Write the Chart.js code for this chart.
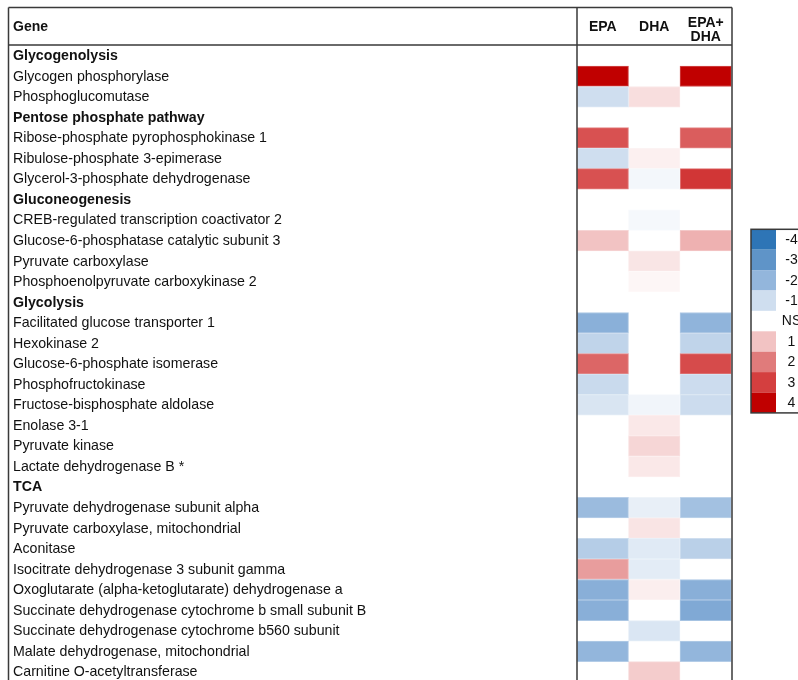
<!DOCTYPE html>
<html>
<head>
<meta charset="utf-8">
<script src="https://cdn.jsdelivr.net/npm/chart.js@4"></script>
<style>
  html, body { margin: 0; padding: 0; background: #fff; overflow: hidden; }
  #wrap { width: 798px; height: 700px; }
</style>
</head>
<body>
<div id="wrap"><canvas id="heat" width="798" height="700"></canvas></div>
<script>
// =================== DATA =================== //

const genes = [
  'Glycogenolysis',
  'Glycogen phosphorylase',
  'Phosphoglucomutase',
  'Pentose phosphate pathway',
  'Ribose-phosphate pyrophosphokinase 1',
  'Ribulose-phosphate 3-epimerase',
  'Glycerol-3-phosphate dehydrogenase',
  'Gluconeogenesis',
  'CREB-regulated transcription coactivator 2',
  'Glucose-6-phosphatase catalytic subunit 3',
  'Pyruvate carboxylase',
  'Phosphoenolpyruvate carboxykinase 2',
  'Glycolysis',
  'Facilitated glucose transporter 1',
  'Hexokinase 2',
  'Glucose-6-phosphate isomerase',
  'Phosphofructokinase',
  'Fructose-bisphosphate aldolase',
  'Enolase 3-1',
  'Pyruvate kinase',
  'Lactate dehydrogenase B *',
  'TCA',
  'Pyruvate dehydrogenase subunit alpha',
  'Pyruvate carboxylase, mitochondrial',
  'Aconitase',
  'Isocitrate dehydrogenase 3 subunit gamma',
  'Oxoglutarate (alpha-ketoglutarate) dehydrogenase a',
  'Succinate dehydrogenase cytochrome b small subunit B',
  'Succinate dehydrogenase cytochrome b560 subunit',
  'Malate dehydrogenase, mitochondrial',
  'Carnitine O-acetyltransferase'
];

// rows that are pathway headings (bold, no cells)
const sectionRows = [0, 3, 7, 12, 21];

const conditions = ['EPA', 'DHA', 'EPA+DHA'];

// fold-change scores, null = NS
const epa = [null, 4, -1, null, 2.7, -1, 2.7, null, null, 1, null, null, null,
  -2.17, -1.25, 2.35, -1.1, -0.8, null, null, null, null,
  -1.87, null, -1.43, 1.53, -2.2, -2.2, null, -2.0, null];
const dha = [null, null, 0.55, null, null, 0.25, -0.25, null, -0.2, null, 0.43, 0.15, null,
  null, null, null, null, -0.3, 0.38, 0.68, 0.38, null,
  -0.48, 0.45, -0.65, -0.58, 0.28, null, -0.77, null, 0.85];
const combo = [null, 4, null, null, 2.5, null, 3.15, null, null, 1.25, null, null, null,
  -2.05, -1.25, 2.8, -1.05, -1.05, null, null, null, null,
  -1.73, null, -1.35, null, -2.2, -2.37, null, -2.0, null];

const legendValues = [-4, -3, -2, -1, 0, 1, 2, 3, 4];
const legendLabels = ['-4', '-3', '-2', '-1', 'NS', '1', '2', '3', '4'];

// =================== COLOUR SCALE =================== //

const scaleStops = [
  [46, 117, 182], [95, 148, 200], [147, 182, 220], [207, 222, 239],
  [255, 255, 255],
  [242, 195, 195], [224, 123, 123], [212, 63, 63], [192, 0, 0]
];

function colorFor(v) {
  let t = Math.max(-4, Math.min(4, v)) + 4;
  let i = Math.min(7, Math.floor(t));
  let f = t - i;
  let a = scaleStops[i], b = scaleStops[i + 1];
  let c = a.map((x, k) => Math.round(x + (b[k] - x) * f));
  return `rgb(${c[0]},${c[1]},${c[2]})`;
}

function edgeFor(v) {
  let m = colorFor(v).match(/\d+/g).map(Number);
  let c = m.map(x => Math.round(x + (255 - x) * 0.3));
  return `rgb(${c[0]},${c[1]},${c[2]})`;
}

// =================== TABLE / LEGEND PLUGIN =================== //

const FONT = "'Liberation Sans', Arial, sans-serif";

const tablePlugin = {
  id: 'tableFrame',
  afterDatasetsDraw(chart) {
    const ctx = chart.ctx;
    const xs = chart.scales.x;
    const ys = chart.scales.y;
    const left = 8.5, top = 7.5, right = 732, headBottom = 45, bottom = 720;
    const divider = chart.chartArea.left;

    ctx.save();
    ctx.fillStyle = '#111';
    ctx.textBaseline = 'middle';

    // header
    ctx.font = 'bold 14px ' + FONT;
    ctx.textAlign = 'left';
    ctx.fillText('Gene', 13, 27);
    ctx.textAlign = 'center';
    ctx.fillText('EPA', xs.getPixelForValue(0.5), 27);
    ctx.fillText('DHA', xs.getPixelForValue(1.5), 27);
    ctx.fillText('EPA+', xs.getPixelForValue(2.5), 23.5);
    ctx.fillText('DHA', xs.getPixelForValue(2.5), 37);

    // gene labels
    ctx.textAlign = 'left';
    genes.forEach((g, i) => {
      ctx.font = (sectionRows.includes(i) ? 'bold ' : '') + '14.2px ' + FONT;
      ctx.fillText(g, 13, ys.getPixelForValue(i) + 0.5);
    });

    // frame lines
    ctx.strokeStyle = '#3a3a3a';
    ctx.lineWidth = 1.5;
    ctx.beginPath();
    ctx.moveTo(left, top); ctx.lineTo(right, top);
    ctx.moveTo(left, headBottom); ctx.lineTo(right, headBottom);
    ctx.moveTo(left, top); ctx.lineTo(left, bottom);
    ctx.moveTo(divider, top); ctx.lineTo(divider, bottom);
    ctx.moveTo(right, top); ctx.lineTo(right, bottom);
    ctx.stroke();

    // colour legend
    const lx = 751, ly = 229.3, lh = 20.4, lw = 25;
    legendValues.forEach((v, i) => {
      ctx.fillStyle = colorFor(v);
      ctx.fillRect(lx, ly + i * lh, lw, lh);
      ctx.fillStyle = '#111';
      ctx.font = '14px ' + FONT;
      ctx.textAlign = 'center';
      ctx.fillText(legendLabels[i], 791.5, ly + i * lh + lh / 2 + 0.5);
    });
    ctx.strokeStyle = '#3a3a3a';
    ctx.lineWidth = 1.5;
    ctx.strokeRect(lx, ly, 80, legendValues.length * lh);
    ctx.restore();
  }
};

// =================== CHART =================== //

const series = [epa, dha, combo];

const datasets = series.map((vals, c) => ({
  label: conditions[c],
  data: vals.map(v => v === null ? null : [c, c + 1]),
  backgroundColor: vals.map(v => v === null ? 'rgba(0,0,0,0)' : colorFor(v)),
  borderColor: vals.map(v => v === null ? 'rgba(0,0,0,0)' : edgeFor(v)),
  borderWidth: 1,
  borderSkipped: false,
  grouped: false,
  barPercentage: 1,
  categoryPercentage: 1
}));

new Chart(document.getElementById('heat'), {
  type: 'bar',
  data: { labels: genes, datasets: datasets },
  options: {
    indexAxis: 'y',
    responsive: false,
    animation: false,
    layout: { padding: { left: 577, right: 66.5, top: 45.46, bottom: 17.8 } },
    plugins: {
      legend: { display: false },
      tooltip: { enabled: false }
    },
    scales: {
      x: { display: false, min: 0, max: 3 },
      y: { display: false, offset: true }
    }
  },
  plugins: [tablePlugin]
});
</script>
</body>
</html>
